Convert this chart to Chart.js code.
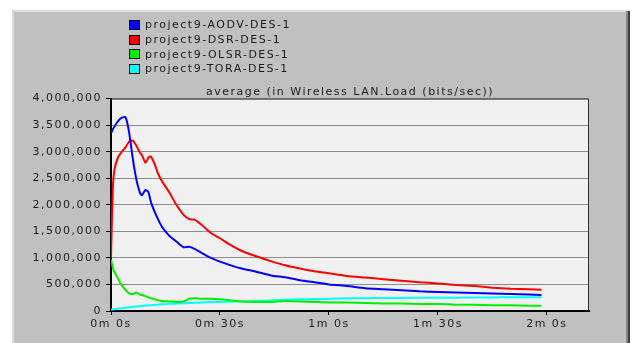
<!DOCTYPE html>
<html>
<head>
<meta charset="utf-8">
<title>average (in Wireless LAN.Load (bits/sec))</title>
<script src="https://cdn.jsdelivr.net/npm/chart.js@4/dist/chart.umd.min.js"></script>
<style>
  html, body { margin: 0; padding: 0; background: #ffffff; }
  #wrap { width: 632px; height: 343px; }
</style>
</head>
<body>
<div id="wrap"><canvas id="chart" width="632" height="343"></canvas></div>
<script>
// Simulation time (seconds) at which each series is sampled
const timeSeconds = [0, 0.5, 1, 2, 3, 4, 5, 6, 7, 8, 8.5, 9.5, 10.3, 11, 12, 13, 14, 16, 18, 20, 21.5, 23, 25, 27.5, 30, 33, 36, 40, 44, 48, 52, 56, 60, 65, 70, 75, 80, 85, 90, 95, 100, 105, 110, 115, 118.5];

// Wireless LAN load, bits/sec
const aodvLoad = [3350000, 3420000, 3480000, 3580000, 3640000, 3650000, 3360000, 2870000, 2470000, 2220000, 2180000, 2280000, 2240000, 2050000, 1870000, 1720000, 1590000, 1420000, 1310000, 1200000, 1210000, 1170000, 1090000, 1000000, 930000, 860000, 800000, 740000, 670000, 635000, 580000, 540000, 500000, 470000, 430000, 410000, 390000, 370000, 360000, 350000, 340000, 330000, 320000, 310000, 300000];
const dsrLoad = [1000000, 2300000, 2680000, 2900000, 3000000, 3080000, 3190000, 3210000, 3110000, 2980000, 2940000, 2790000, 2890000, 2910000, 2770000, 2580000, 2450000, 2240000, 2000000, 1810000, 1730000, 1720000, 1620000, 1470000, 1370000, 1240000, 1130000, 1030000, 940000, 860000, 800000, 750000, 710000, 660000, 630000, 600000, 570000, 540000, 520000, 490000, 470000, 440000, 420000, 410000, 400000];
const olsrLoad = [970000, 820000, 730000, 600000, 480000, 400000, 330000, 320000, 350000, 310000, 300000, 280000, 260000, 240000, 220000, 200000, 190000, 180000, 170000, 180000, 230000, 240000, 230000, 230000, 220000, 200000, 180000, 170000, 170000, 190000, 180000, 170000, 160000, 160000, 150000, 140000, 140000, 130000, 130000, 120000, 120000, 110000, 110000, 100000, 100000];
const toraLoad = [30000, 30000, 35000, 45000, 50000, 60000, 70000, 80000, 85000, 90000, 95000, 100000, 105000, 110000, 115000, 120000, 125000, 135000, 140000, 145000, 150000, 155000, 160000, 165000, 170000, 175000, 180000, 190000, 200000, 210000, 220000, 225000, 230000, 240000, 240000, 245000, 245000, 250000, 250000, 250000, 255000, 255000, 260000, 260000, 260000];

const seriesNames = ['project9-AODV-DES-1', 'project9-DSR-DES-1', 'project9-OLSR-DES-1', 'project9-TORA-DES-1'];
const seriesColors = ['#0000ff', '#ff0000', '#00f000', '#00ffff'];

const xTickSeconds = [0, 30, 60, 90, 120];
const xTickLabels = ['0m 0s', '0m 30s', '1m 0s', '1m 30s', '2m 0s'];
const chartTitle = 'average (in Wireless LAN.Load (bits/sec))';

const FONT = 'DejaVu Sans';
const LETTER_SPACING = '1.5px';
const TEXT_COLOR = '#1c1c1c';

function points(values) {
  return values.map((v, i) => ({ x: timeSeconds[i], y: v }));
}

// Wide, evenly spaced lettering for every text element
const spacing = {
  id: 'spacing',
  beforeUpdate(chart) { chart.ctx.letterSpacing = LETTER_SPACING; },
  beforeLayout(chart) { chart.ctx.letterSpacing = LETTER_SPACING; },
  beforeDraw(chart) { chart.ctx.letterSpacing = LETTER_SPACING; }
};

// Grey window panel behind everything, light plot background inside the axes
const panel = {
  id: 'panel',
  beforeDraw(chart) {
    const ctx = chart.ctx;
    const a = chart.chartArea;
    ctx.save();
    ctx.fillStyle = '#ffffff';
    ctx.fillRect(0, 0, chart.width, chart.height);
    ctx.fillStyle = '#c0c0c0';
    ctx.fillRect(12, 10, 618, chart.height - 10);
    ctx.fillStyle = '#dcdcdc';
    ctx.fillRect(12, 10, 618, 2);
    ctx.fillRect(12, 10, 2, chart.height - 10);
    ctx.fillStyle = '#8a8a8a';
    ctx.fillRect(626, 11, 2, chart.height - 11);
    ctx.fillStyle = '#404040';
    ctx.fillRect(628, 11, 2, chart.height - 11);
    ctx.fillStyle = '#f0f0f0';
    ctx.fillRect(a.left, a.top, a.right - a.left, a.bottom - a.top);
    ctx.restore();
  },
  afterDatasetsDraw(chart) {
    const ctx = chart.ctx;
    const a = chart.chartArea;
    ctx.save();
    ctx.strokeStyle = '#303030';
    ctx.lineWidth = 1;
    ctx.beginPath();
    ctx.moveTo(a.left, a.top + 0.5);
    ctx.lineTo(a.right - 0.5, a.top + 0.5);
    ctx.lineTo(a.right - 0.5, a.bottom);
    ctx.stroke();
    ctx.restore();
  }
};

// Vertical legend list in the upper part of the panel
const stackedLegend = {
  id: 'stackedLegend',
  afterDraw(chart) {
    const ctx = chart.ctx;
    ctx.save();
    ctx.letterSpacing = LETTER_SPACING;
    ctx.font = '11px "' + FONT + '"';
    ctx.textBaseline = 'middle';
    ctx.textAlign = 'left';
    chart.data.datasets.forEach((ds, i) => {
      const cy = 25 + i * 14.6;
      ctx.fillStyle = ds.borderColor;
      ctx.fillRect(129, Math.round(cy - 5), 11, 10);
      ctx.strokeStyle = '#000000';
      ctx.lineWidth = 1;
      ctx.strokeRect(129.5, Math.round(cy - 5) + 0.5, 10, 9);
      ctx.fillStyle = TEXT_COLOR;
      ctx.fillText(ds.label, 145, cy + 0.5);
    });
    ctx.restore();
  }
};

const datasets = [aodvLoad, dsrLoad, olsrLoad, toraLoad].map((vals, i) => ({
  label: seriesNames[i],
  data: points(vals),
  borderColor: seriesColors[i],
  backgroundColor: seriesColors[i],
  borderWidth: 2,
  pointRadius: 0,
  tension: 0.2,
  fill: false
}));
// draw TORA beneath OLSR where they overlap
datasets[0].order = 0;
datasets[1].order = 0;
datasets[2].order = 1;
datasets[3].order = 2;

new Chart(document.getElementById('chart'), {
  type: 'line',
  data: { datasets },
  plugins: [spacing, panel, stackedLegend],
  options: {
    responsive: false,
    devicePixelRatio: 1,
    animation: false,
    layout: { padding: { top: 0, left: 0, right: 43, bottom: 0 } },
    plugins: {
      legend: { display: false },
      tooltip: { enabled: false },
      title: {
        display: true,
        text: chartTitle,
        fullSize: false,
        color: TEXT_COLOR,
        font: { family: FONT, size: 11, weight: 'normal', lineHeight: 1.2 },
        padding: { top: 85.4, bottom: 0 }
      }
    },
    scales: {
      x: {
        type: 'linear',
        min: 0,
        max: 131.6,
        afterBuildTicks(scale) { scale.ticks = xTickSeconds.map(v => ({ value: v })); },
        afterFit(scale) { scale.height = 32; },
        ticks: {
          autoSkip: false,
          maxRotation: 0,
          padding: 3,
          color: TEXT_COLOR,
          font: { family: FONT, size: 11 },
          callback(value, index) { return xTickLabels[index]; }
        },
        grid: { drawOnChartArea: false, drawTicks: true, tickLength: 4, tickColor: '#000000', tickWidth: 1 },
        border: { display: true, color: '#000000', width: 2 }
      },
      y: {
        min: 0,
        max: 4000000,
        afterFit(scale) { scale.width = 111; },
        ticks: {
          stepSize: 500000,
          padding: 4,
          color: TEXT_COLOR,
          font: { family: FONT, size: 11 },
          callback(value) { return Number(value).toLocaleString('en-US'); }
        },
        grid: { color: '#8c8c8c', lineWidth: 1, drawTicks: true, tickLength: 5, tickColor: '#000000' },
        border: { display: true, color: '#000000', width: 2 }
      }
    }
  }
});
</script>
</body>
</html>
